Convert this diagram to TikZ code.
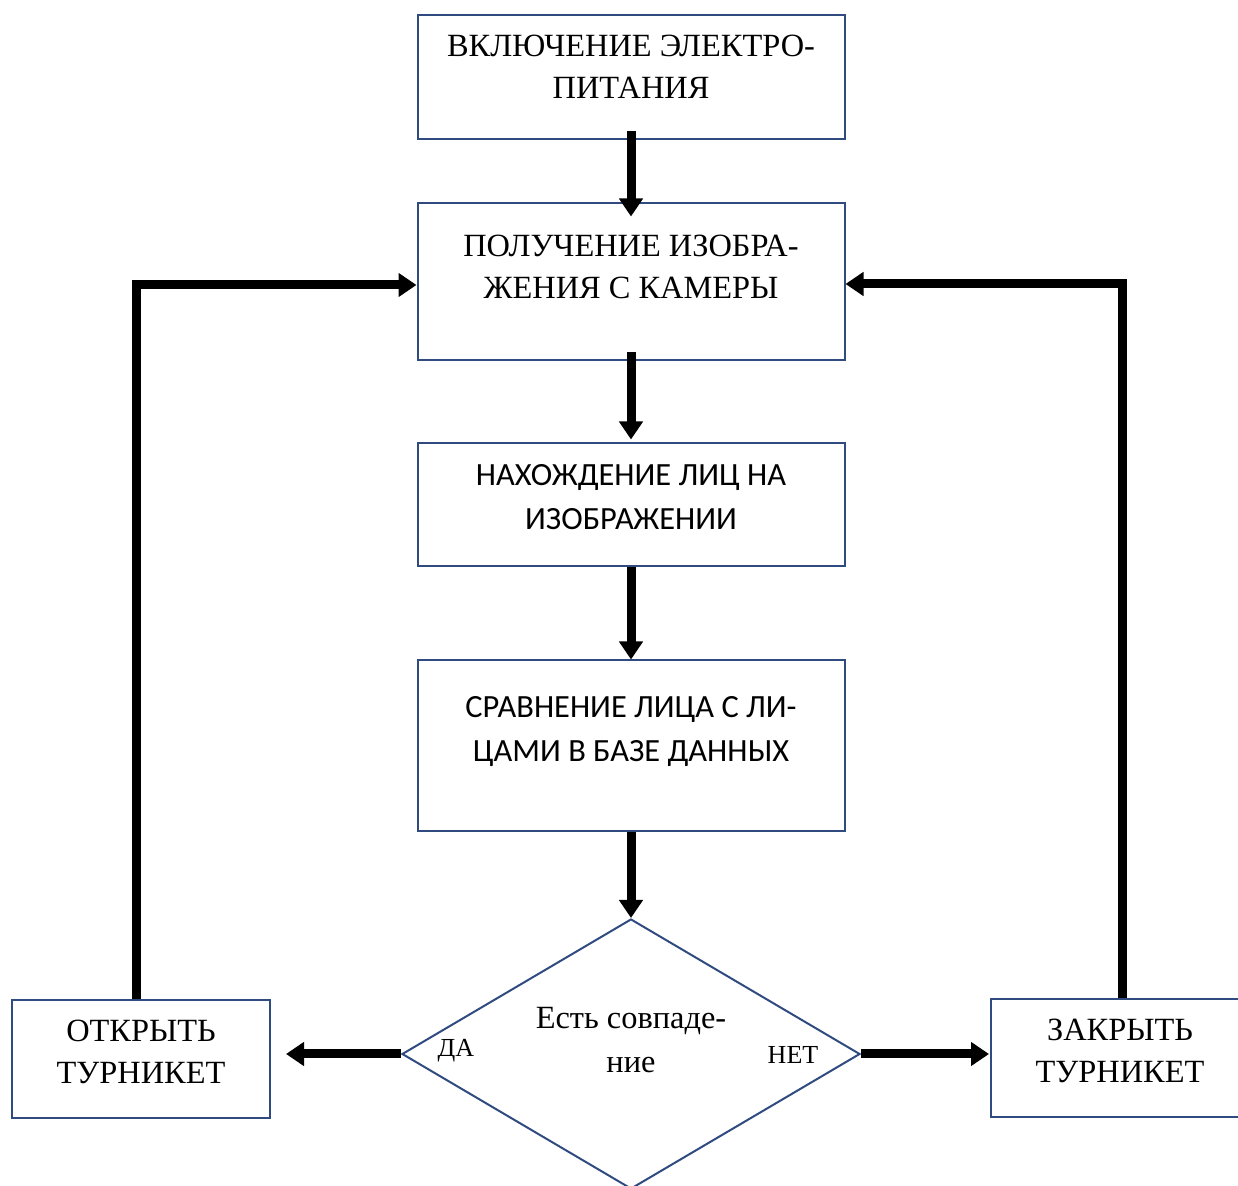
\documentclass[tikz,border=0pt]{standalone}
\usepackage{fontspec}
\setmainfont{Liberation Serif}
\newfontfamily\calibri{Carlito}
\usetikzlibrary{shapes.geometric,arrows.meta}
\definecolor{boxblue}{RGB}{47,75,128}

\begin{document}
\begin{tikzpicture}[x=0.5pt,y=-0.5pt,>={Triangle[length=9pt,width=11.5pt]},
    flow/.style={->,line width=4.5pt},
    box/.style={draw=boxblue,line width=1pt,minimum width=213.5pt,align=center,
      font=\fontsize{16.2}{21}\selectfont},
    sbox/.style={box,font=\calibri\fontsize{16.2}{22}\selectfont},
    turn/.style={box,minimum width=129pt,minimum height=59pt},
    dec/.style={diamond,draw=boxblue,line width=1pt,shape aspect=1.7,minimum width=229pt,
      minimum height=135pt,align=center,font=\fontsize{16.2}{22}\selectfont},
    lift/.style={text depth=#1}]

    \useasboundingbox (0,0) rectangle (1238,1186);

    % Blocks
    \node[box,minimum height=62pt,lift=10pt] (pwr) at (631,77)
      {ВКЛЮЧЕНИЕ ЭЛЕКТРО-\\ПИТАНИЯ};
    \node[box,minimum height=78.5pt,lift=15pt] (cap) at (631,282)
      {ПОЛУЧЕНИЕ ИЗОБРА-\\ЖЕНИЯ С КАМЕРЫ};
    \node[sbox,minimum height=61.5pt,lift=8pt] (find) at (631,505)
      {НАХОЖДЕНИЕ ЛИЦ НА\\ИЗОБРАЖЕНИИ};
    \node[sbox,minimum height=85.5pt,lift=17pt] (cmp) at (631,746)
      {СРАВНЕНИЕ ЛИЦА С ЛИ-\\ЦАМИ В БАЗЕ ДАННЫХ};

    % Decision
    \node[dec,lift=14pt] (match) at (631,1054) {Есть совпаде-\\ние};
    \node[font=\fontsize{13}{15}\selectfont] (yes) at (456,1051) {ДА};
    \node[font=\fontsize{13}{15}\selectfont] (no) at (793,1055) {НЕТ};

    % Turnstile
    \node[turn,lift=7pt] (open) at (141,1059) {ОТКРЫТЬ\\ТУРНИКЕТ};
    \node[turn,lift=7pt] (close) at (1120,1058) {ЗАКРЫТЬ\\ТУРНИКЕТ};

    % Arrows
    \draw[flow,shorten <=-4.5pt,shorten >=-7pt] (pwr) -- (cap);
    \draw[flow,shorten <=-4.5pt,shorten >=1.5pt] (cap) -- (find);
    \draw[flow] (find) -- (cmp);
    \draw[flow] (cmp) -- (match);

    \draw[flow,shorten >=7.5pt] (match.west) -- (match.west -| open.east);
    \draw[flow,shorten >=0.5pt] (match.east) -- (match.east -| close.west);

    \draw[flow] ([xshift=-2.5pt]open.north) |- ([yshift=-1.5pt]cap.west);
    \draw[flow] ([xshift=1pt]close.north) |- ([yshift=-1pt]cap.east);
\end{tikzpicture}
\end{document}
